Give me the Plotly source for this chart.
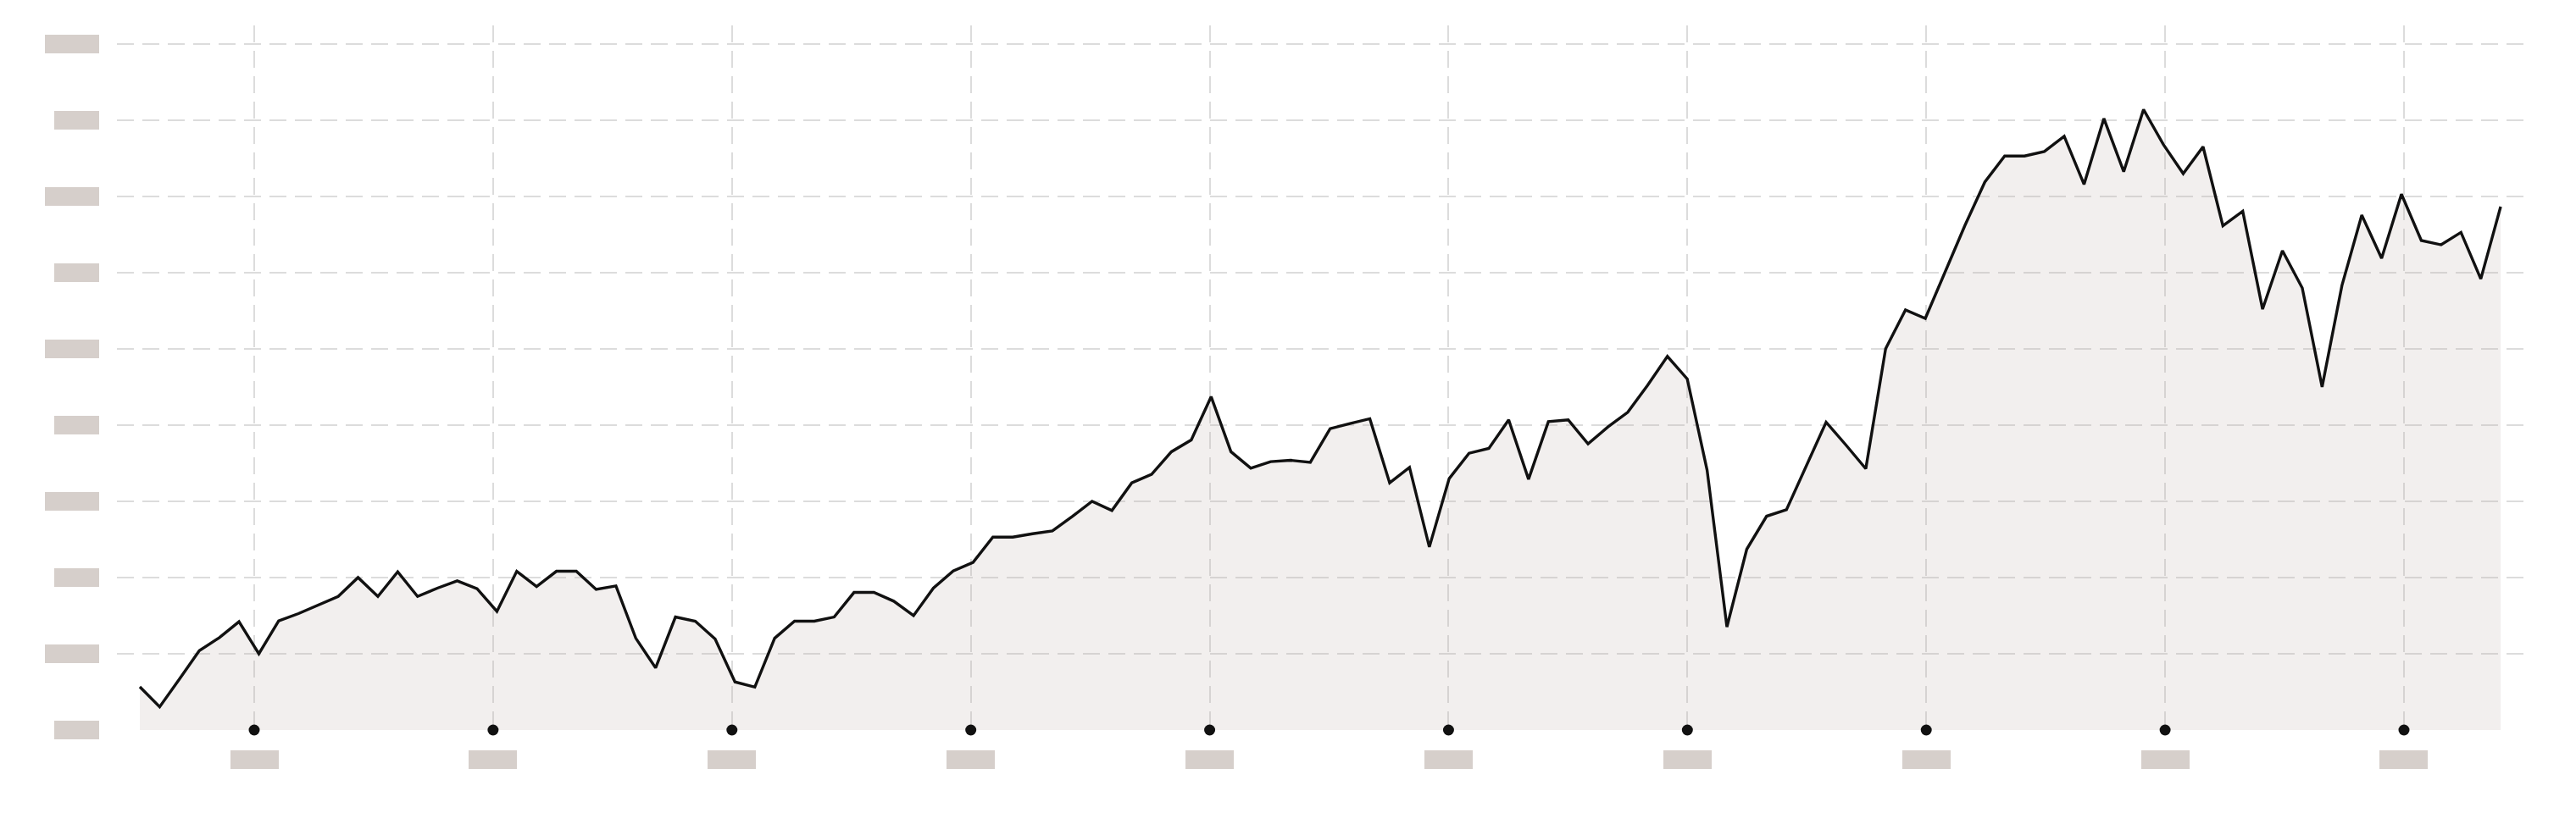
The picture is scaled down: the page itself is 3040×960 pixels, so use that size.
import plotly.graph_objects as go

# ---- data ----
values = [
    56.7, 30.4, 67.0, 104.0, 121.0, 142.0, 100.0, 143.0, 152.7, 163.8,
    175.2, 200.0, 175.2, 207.4, 175.2, 186.0, 195.6, 185.2, 155.6, 208.2,
    188.2, 208.2, 208.2, 184.4, 188.9, 120.4, 81.5, 148.2, 142.7, 119.3,
    63.0, 56.3, 120.4, 142.7, 142.7, 148.2, 180.4, 180.4, 169.0, 150.0,
    186.0, 208.5, 219.7, 253.0, 253.0, 257.4, 261.1, 280.0, 300.0, 287.8,
    324.1, 335.2, 364.9, 380.4, 437.1, 364.9, 343.3, 351.9, 353.7, 351.1,
    395.2, 401.9, 408.2, 324.1, 344.4, 240.0, 329.7, 363.0, 369.3, 406.7,
    328.9, 404.4, 406.7, 375.2, 397.4, 416.7, 452.0, 490.0, 460.4, 340.8,
    135.2, 237.1, 280.4, 288.9, 346.3, 403.7, 373.7, 342.6, 500.0, 550.8,
    539.7, 600.8, 661.9, 718.6, 752.7, 752.7, 758.6, 778.6, 715.6, 801.9,
    732.2, 813.7, 767.8, 729.7, 764.9, 661.1, 680.4, 551.9, 628.6, 579.7,
    450.0, 583.0, 675.2, 618.6, 702.7, 641.9, 636.3, 652.6, 591.5, 686.3,
]
x_index = list(range(len(values)))

x_tick_labels = ["2015", "2016", "2017", "2018", "2019",
                 "2020", "2021", "2022", "2023", "2024"]
y_tick_values = [0, 100, 200, 300, 400, 500, 600, 700, 800, 900]
y_tick_labels = ["0", "100", "200", "300", "400",
                 "500", "600", "700", "800", "900"]

# ---- styling / layout constants ----
X_TICK0 = 5.767
X_DTICK = 12.04
x_tick_pos = [X_TICK0 + k * X_DTICK for k in range(len(x_tick_labels))]

BLOCK = "#d6cfcb"
GRID = "#dcdcdc"
LINE = "#111111"

fig = go.Figure()

fig.add_trace(go.Scatter(
    x=x_index, y=values, mode="lines",
    line=dict(color=LINE, width=3.4),
    fill="tozeroy", fillcolor="rgba(190,175,170,0.2)",
    hoverinfo="skip", showlegend=False,
))

fig.add_trace(go.Scatter(
    x=x_tick_pos, y=[0] * len(x_tick_pos), mode="markers",
    marker=dict(color=LINE, size=13),
    cliponaxis=False, hoverinfo="skip", showlegend=False,
))

annotations = []
for xp, lab in zip(x_tick_pos, x_tick_labels):
    annotations.append(dict(
        x=xp, xref="x", y=0, yref="paper", yanchor="top", xanchor="center",
        yshift=-24, text=lab, showarrow=False,
        font=dict(family="Roboto", size=13, color=BLOCK),
        bgcolor=BLOCK, width=57, height=22, borderpad=0, borderwidth=0,
    ))
for k, (yv, lab) in enumerate(zip(y_tick_values, y_tick_labels)):
    w = 53 if k % 2 == 0 else 64
    annotations.append(dict(
        x=0, xref="paper", xanchor="right", xshift=-21,
        y=yv, yref="y", yanchor="middle", text=lab, showarrow=False,
        font=dict(family="Roboto", size=13, color=BLOCK),
        bgcolor=BLOCK, width=w, height=22, borderpad=0, borderwidth=0,
    ))

fig.update_layout(
    width=3024, height=944, autosize=False,
    margin=dict(l=130, r=54, t=22, b=90),
    paper_bgcolor="white", plot_bgcolor="white",
    annotations=annotations,
    xaxis=dict(
        range=[-1.153, 120.15], tickmode="linear", tick0=X_TICK0, dtick=X_DTICK,
        showticklabels=False, showgrid=True, gridcolor=GRID, gridwidth=2,
        griddash="20px,10px", zeroline=False, showline=False, ticks="",
    ),
    yaxis=dict(
        range=[0, 924], tickmode="linear", tick0=0, dtick=100,
        showticklabels=False, showgrid=True, gridcolor=GRID, gridwidth=2,
        griddash="20px,10px", zeroline=False, showline=False, ticks="",
    ),
)

fig.write_html("out.html")
